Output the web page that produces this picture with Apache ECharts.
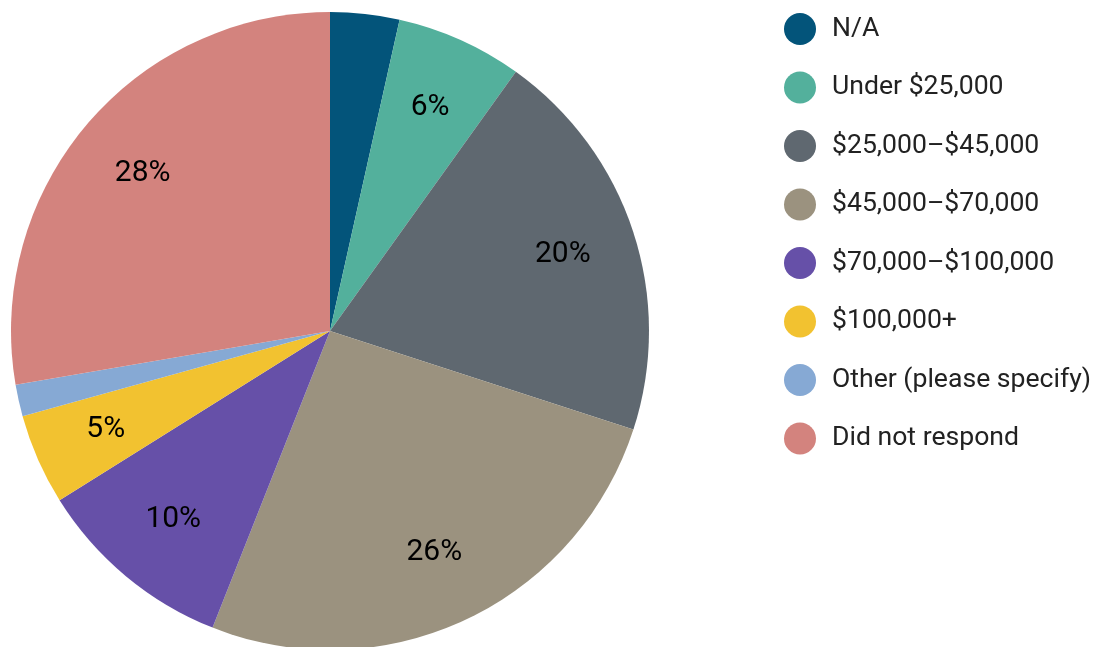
<!DOCTYPE html>
<html>
<head>
<meta charset="utf-8">
<script src="https://cdn.jsdelivr.net/npm/echarts@6/dist/echarts.min.js"></script>
<style>html,body{margin:0;padding:0;background:#fff;}#c{width:1099px;height:647px;}</style>
</head>
<body>
<div id="c"></div>
<script>
const categories = ['N/A', 'Under $25,000', '$25,000–$45,000', '$45,000–$70,000', '$70,000–$100,000', '$100,000+', 'Other (please specify)', 'Did not respond'];
const values = [3.5, 6.4, 20.1, 26.0, 10.1, 4.6, 1.6, 27.7];
const colors = ['#03547A', '#53B09C', '#5F6870', '#9B927F', '#6650A8', '#F2C230', '#86A9D4', '#D3837E'];

const pieData = categories.map((n, i) => ({ name: n, value: values[i], itemStyle: { color: colors[i] } }));
const labelData = categories.map((n, i) => ({ name: n, value: values[i] }));

const chart = echarts.init(document.getElementById('c'));
chart.setOption({
  animation: false,
  legend: {
    orient: 'vertical',
    left: 779,
    top: 8,
    icon: 'circle',
    itemWidth: 32,
    itemHeight: 32,
    itemGap: 26.5,
    data: categories,
    textStyle: { fontFamily: 'Roboto', fontSize: 26.6, color: '#222', padding: [0, 0, 0, 11] }
  },
  series: [
    {
      type: 'pie',
      center: [330, 331],
      radius: [0, 319],
      startAngle: 90,
      clockwise: true,
      data: pieData,
      label: { show: false },
      labelLine: { show: false },
      emphasis: { disabled: true }
    },
    {
      type: 'pie',
      center: [330, 331],
      radius: [165, 319],
      startAngle: 90,
      clockwise: true,
      silent: true,
      data: labelData,
      itemStyle: { color: 'rgba(0,0,0,0)' },
      label: {
        show: true,
        position: 'inside',
        fontFamily: 'Roboto',
        fontSize: 30,
        color: '#000',
        formatter: p => p.value < 3 || p.name === 'N/A' ? '' : Math.round(p.value) + '%'
      },
      labelLine: { show: false },
      emphasis: { disabled: true }
    }
  ]
});
</script>
</body>
</html>
